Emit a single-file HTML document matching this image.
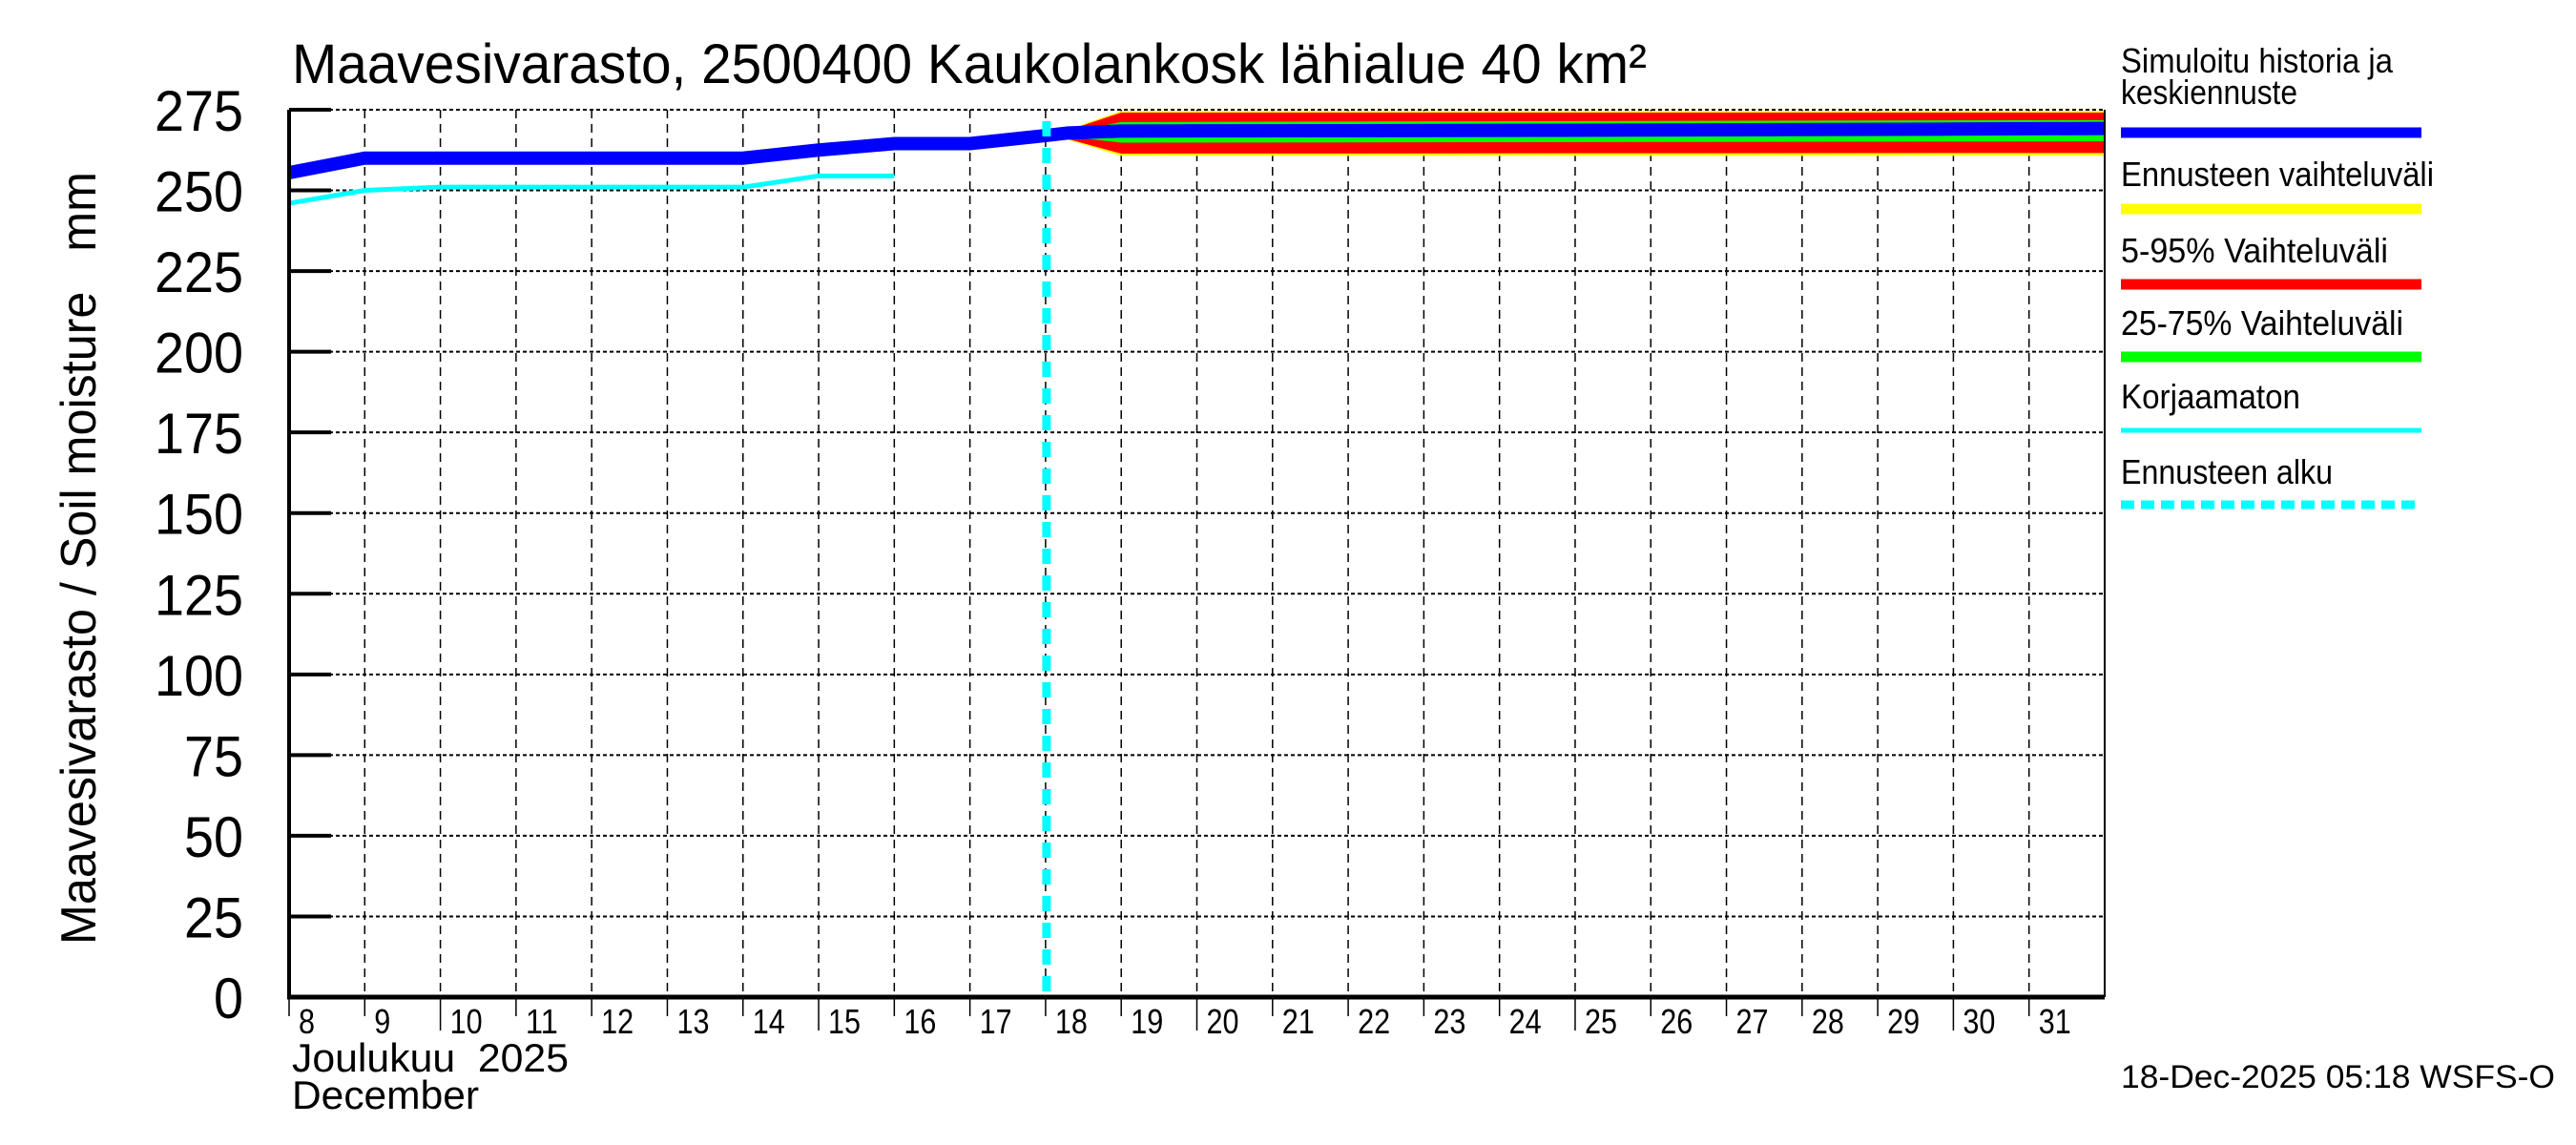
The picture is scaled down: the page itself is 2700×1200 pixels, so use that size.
<!DOCTYPE html>
<html><head><meta charset="utf-8"><style>
html,body{margin:0;padding:0;background:#fff}
svg{display:block}
text{font-family:"Liberation Sans",sans-serif;fill:#000}
</style></head><body>
<svg id="chart" width="2700" height="1200" viewBox="0 0 2700 1200" xmlns="http://www.w3.org/2000/svg">
<text x="306" y="87" font-size="58" textLength="1420" lengthAdjust="spacingAndGlyphs">Maavesivarasto, 2500400 Kaukolankosk lähialue 40 km²</text>
<text transform="translate(100,585) rotate(-90)" text-anchor="middle" font-size="52" textLength="810" lengthAdjust="spacingAndGlyphs">Maavesivarasto / Soil moisture&#160;&#160;&#160;mm</text>
<g id="grid"></g>
<g id="bands"></g>
<g id="series"></g>
<g id="axes"></g>
<text x="306" y="1123" font-size="42" textLength="290" lengthAdjust="spacingAndGlyphs">Joulukuu&#160;&#160;2025</text>
<text x="306" y="1162" font-size="42" textLength="196" lengthAdjust="spacingAndGlyphs">December</text>
<text x="2223" y="1140" font-size="34" textLength="455" lengthAdjust="spacingAndGlyphs">18-Dec-2025 05:18 WSFS-O</text>
<g id="legend"></g>
</svg>
<script>
// ---- data ----
const yTicks = [0,25,50,75,100,125,150,175,200,225,250,275];
const dayLabels = ['8','9','10','11','12','13','14','15','16','17','18','19','20','21','22','23','24','25','26','27','28','29','30','31'];
const forecastStart = 10; // days since Dec 8
const meanDays = [0,1,2,3,4,5,6,7,8,9,10,10.3,11,14,18,22,24];
const meanVals = [255.5,260,260,260,260,260,260,262.5,264.5,264.5,267,267.8,268.4,268.5,268.7,269,269.2];
const rawDays = [0,1,2,3,4,5,6,7,8];
const rawVals = [246,250,251,251,251,251,251,254.5,254.5];
const bandDays = [10,10.25,11,24];
const yelLo = [267,266,260.7,260.7];
const yelHi = [267,268.5,274.6,274.6];
const redLo = [267,266.2,261.4,261.6];
const redHi = [267,268.3,274.1,274.1];
const grnLo = [267,266.8,264.8,265.2];
const grnHi = [267,267.8,271.2,271.8];

// ---- axes functions ----
const X0=303, X1=2206, Y0=1045, YTOP=115;
const x = d => X0 + d*(X1-X0)/24;
const y = v => Y0 - v*(Y0-YTOP)/275;
const NS='http://www.w3.org/2000/svg';
function mk(tag, parent, attrs){const e=document.createElementNS(NS,tag);for(const k in attrs)e.setAttribute(k,attrs[k]);parent.appendChild(e);return e;}
const grid=document.getElementById('grid'), axes=document.getElementById('axes'), bands=document.getElementById('bands'), series=document.getElementById('series'), legend=document.getElementById('legend');

yTicks.forEach(v=>{
  const l=mk('line',grid,{x1:X0,x2:X1,y1:y(v),y2:y(v),stroke:'#000','stroke-width':2,'stroke-dasharray':'4 3'});
  
  
  const t=mk('line',axes,{x1:X0,x2:X0+44,y1:y(v),y2:y(v),stroke:'#000','stroke-width':4});
  
  
  const s=String(v);
  const tx=mk('text',axes,{x:255,y:y(v)+22,'text-anchor':'end','font-size':60,textLength:s.length*31,lengthAdjust:'spacingAndGlyphs'});
  tx.textContent=s;
  
  
});
dayLabels.forEach((lab,i)=>{
  if(i>0){
    const g=mk('line',grid,{x1:x(i),x2:x(i),y1:YTOP,y2:Y0,stroke:'#000','stroke-width':1.5,'stroke-dasharray':'9 6'});
    
    
  }
  const long=(parseInt(lab)%5===0);
  const t=mk('line',axes,{x1:x(i),x2:x(i),y1:Y0,y2:Y0+(long?35:20),stroke:'#000','stroke-width':1.5});
  
  
  const tx=mk('text',axes,{x:x(i)+10,y:1083,'font-size':36,textLength:lab.length*17,lengthAdjust:'spacingAndGlyphs'});
  tx.textContent=lab;
  
  
});
function bandPath(lo,hi){
  let d='M'+bandDays.map((dd,i)=>x(dd)+','+y(hi[i])).join(' L');
  for(let i=bandDays.length-1;i>=0;i--) d+=' L'+x(bandDays[i])+','+y(lo[i]);
  return d+'Z';
}
[[yelLo,yelHi,'#ffff00','band-yellow'],[redLo,redHi,'#ff0000','band-red'],[grnLo,grnHi,'#00ff00','band-green']].forEach(b=>{
  const p=mk('path',bands,{d:bandPath(b[0],b[1]),fill:b[2]});
  
  
});
const raw=mk('polyline',series,{points:rawDays.map((d,i)=>x(d)+','+y(rawVals[i])).join(' '),fill:'none',stroke:'#00ffff','stroke-width':5});


const mean=mk('polyline',series,{points:meanDays.map((d,i)=>x(d)+','+y(meanVals[i])).join(' '),fill:'none',stroke:'#0000ff','stroke-width':14});


const fs=mk('line',series,{x1:x(forecastStart)+1,x2:x(forecastStart)+1,y1:127,y2:Y0,stroke:'#00ffff','stroke-width':9,'stroke-dasharray':'16 12'});



const la=mk('line',axes,{x1:X0,x2:X0,y1:YTOP,y2:Y0+2,stroke:'#000','stroke-width':4});


const ba=mk('line',axes,{x1:X0-2,x2:X1,y1:Y0,y2:Y0,stroke:'#000','stroke-width':5});


const ra=mk('line',axes,{x1:X1,x2:X1,y1:YTOP,y2:Y0,stroke:'#000','stroke-width':2});



// legend
const LX=2223, LX2=2538;
const legItems=[
 [['Simuloitu historia ja','keskiennuste'],[76,109],139,'#0000ff',11,null,'legend-mean',[285,185]],
 [['Ennusteen vaihteluväli'],[195],219,'#ffff00',11,null,'legend-range',[328]],
 [['5-95% Vaihteluväli'],[275],298,'#ff0000',11,null,'legend-5-95',[280]],
 [['25-75% Vaihteluväli'],[351],374,'#00ff00',11,null,'legend-25-75',[296]],
 [['Korjaamaton'],[428],451,'#00ffff',5,null,'legend-uncorrected',[188]],
 [['Ennusteen alku'],[507],529,'#00ffff',9,'14 7','legend-forecast-start',[222]]
];
legItems.forEach(it=>{
  const g=mk('g',legend,{});
  
  
  it[0].forEach((s,j)=>{
    const t=mk('text',g,{x:LX,y:it[1][j],'font-size':36,textLength:it[7][j],lengthAdjust:'spacingAndGlyphs'});
    t.textContent=s;
  });
  const a={x1:LX,x2:LX2,y1:it[2],y2:it[2],stroke:it[3],'stroke-width':it[4]};
  if(it[5])a['stroke-dasharray']=it[5];
  mk('line',g,a);
});
</script>
</body></html>
